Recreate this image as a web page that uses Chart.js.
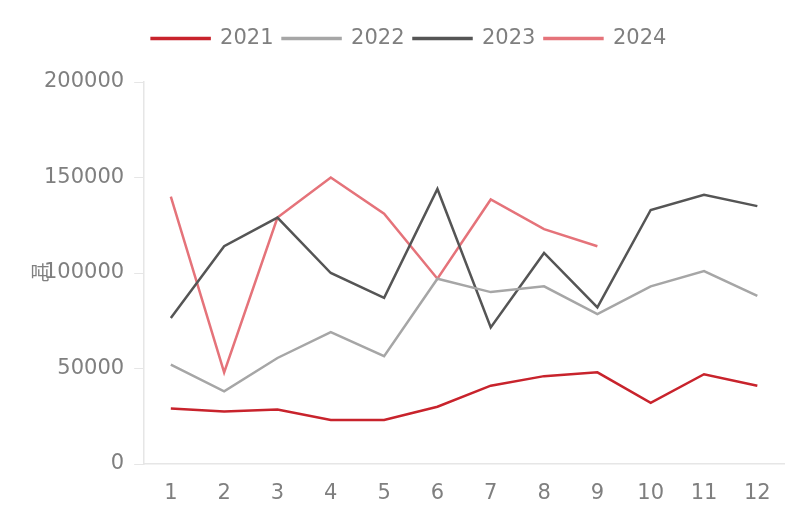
<!DOCTYPE html>
<html>
<head>
<meta charset="utf-8">
<script src="https://cdn.jsdelivr.net/npm/chart.js@4.4.0/dist/chart.umd.min.js"></script>
<style>
  html, body { margin: 0; padding: 0; background: #fff; }
  #wrap { width: 800px; height: 509px; }
</style>
</head>
<body>
<div id="wrap"><canvas id="grafico"></canvas></div>
<script>
// dados
const meses = ['1', '2', '3', '4', '5', '6', '7', '8', '9', '10', '11', '12'];
const anos = ['2021', '2022', '2023', '2024'];
const v2021 = [29000, 27500, 28500, 23000, 23000, 30000, 41000, 46000, 48000, 32000, 47000, 41000];
const v2022 = [52000, 38000, 55500, 69000, 56500, 97000, 90000, 93000, 78500, 93000, 101000, 88000];
const v2023 = [76500, 114000, 129000, 100000, 87000, 144000, 71500, 110500, 82000, 133000, 141000, 135000];
const v2024 = [140000, 48000, 129000, 150000, 131000, 97000, 138500, 123000, 114000];
const yTicks = [0, 50000, 100000, 150000, 200000];
const unidade = '吨';

const cores = ['#c8232c', '#a6a6a6', '#555555', '#e5737a'];
const series = [v2021, v2022, v2023, v2024];

// desenha a unidade "吨" em pé, ao lado do eixo
const rotuloUnidade = {
    id: 'rotuloUnidade',
    afterDraw(chart) {
        const ctx = chart.ctx;
        ctx.save();
        ctx.font = '19px "Noto Sans CJK SC", sans-serif';
        ctx.fillStyle = '#808080';
        ctx.textAlign = 'center';
        ctx.textBaseline = 'middle';
        ctx.fillText(unidade, 40, chart.scales.y.getPixelForValue(100000));
        ctx.restore();
    }
};

// espaço extra abaixo da legenda
const margemLegenda = {
    id: 'margemLegenda',
    beforeInit(chart) {
        const fit = chart.legend.fit;
        chart.legend.fit = function () {
            fit.bind(chart.legend)();
            this.height += 23;
        };
    }
};

new Chart(document.getElementById('grafico').getContext('2d'), {
    type: 'line',
    data: {
        labels: meses,
        datasets: anos.map((a, i) => ({
            label: a,
            data: series[i],
            borderColor: cores[i],
            backgroundColor: cores[i],
            borderWidth: 2.5,
            pointRadius: 0,
            tension: 0
        }))
    },
    options: {
        responsive: true,
        maintainAspectRatio: false,
        animation: false,
        layout: { padding: { left: 34, right: 16, top: 19, bottom: 5 } },
        plugins: {
            legend: {
                position: 'top',
                labels: {
                    boxWidth: 58,
                    boxHeight: 1,
                    padding: 9,
                    color: '#7f7f7f',
                    font: { family: 'DejaVu Sans', size: 21 }
                }
            },
            tooltip: { enabled: false }
        },
        scales: {
            x: {
                offset: true,
                afterFit(axis) { axis.height = 40; },
                grid: { display: false, drawTicks: false },
                border: { color: '#e6e6e6', width: 1.5 },
                ticks: {
                    color: '#7f7f7f',
                    padding: 17,
                    font: { family: 'DejaVu Sans', size: 21 }
                }
            },
            y: {
                min: 0,
                max: 200000,
                afterBuildTicks(axis) {
                    axis.ticks = yTicks.map(v => ({ value: v }));
                },
                grid: {
                    drawOnChartArea: false,
                    drawTicks: true,
                    tickLength: 10,
                    color: '#e6e6e6'
                },
                border: { color: '#e6e6e6', width: 1.5 },
                ticks: {
                    color: '#7f7f7f',
                    padding: 10,
                    font: { family: 'DejaVu Sans', size: 21 },
                    callback: v => String(v)
                }
            }
        }
    },
    plugins: [rotuloUnidade, margemLegenda]
});
</script>
</body>
</html>
